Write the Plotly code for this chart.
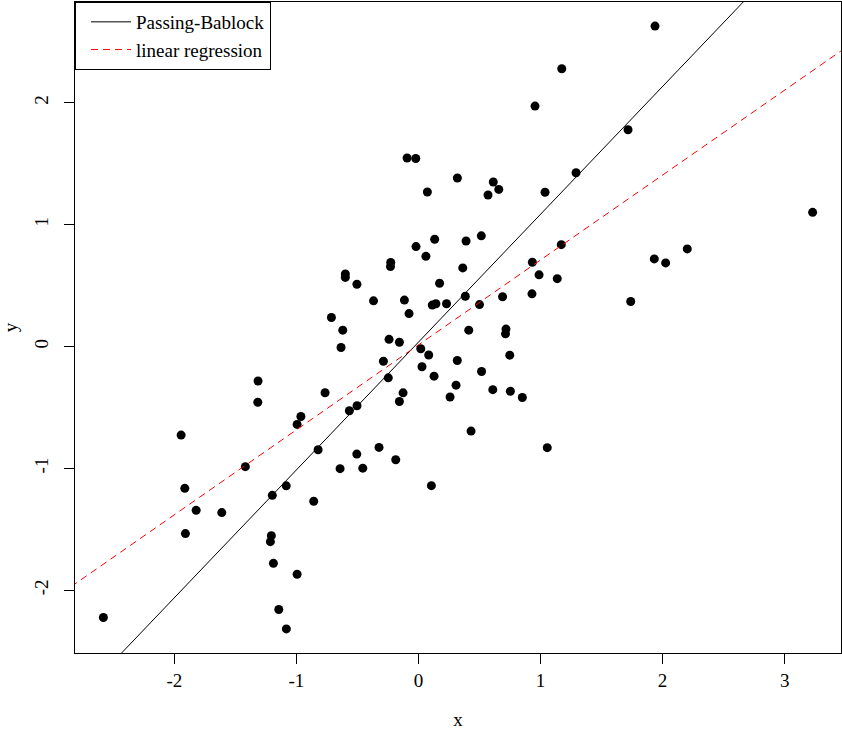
import plotly.graph_objects as go
import numpy as np

# Data
x_vals = [-2.581, -1.944, -1.914, -1.909, -1.821, -1.611, -1.418, -1.314, -1.316, -1.197,
          -1.205, -1.213, -1.188, -1.144, -1.082, -1.083, -0.994, -0.994, -0.963, -0.858,
          -0.822, -0.765, -0.713, -0.634, -0.620, -0.599, -0.599, -0.642, -0.566, -0.503,
          -0.504, -0.505, -0.456, -0.368, -0.323, -0.287, -0.241, -0.247, -0.227, -0.229,
          -0.186, -0.156, -0.156, -0.126, -0.115, -0.093, -0.077, -0.020, -0.022, 0.019,
          0.029, 0.061, 0.073, 0.084, 0.106, 0.113, 0.128, 0.133, 0.143, 0.173,
          0.230, 0.259, 0.308, 0.319, 0.318, 0.363, 0.384, 0.390, 0.412, 0.431,
          0.500, 0.517, 0.515, 0.570, 0.613, 0.609, 0.658, 0.689, 0.717, 0.713,
          0.748, 0.753, 0.851, 0.930, 0.933, 0.955, 0.988, 1.037, 1.055, 1.137,
          1.170, 1.174, 1.291, 1.717, 1.739, 1.932, 1.938, 2.025, 2.202, 3.229]
y_vals = [-2.224, -0.727, -1.164, -1.535, -1.344, -1.363, -0.986, -0.283, -0.457, -1.221,
          -1.552, -1.601, -1.779, -2.158, -2.317, -1.143, -1.869, -0.639, -0.574, -1.270,
          -0.847, -0.379, 0.238, -0.008, 0.134, 0.596, 0.567, -1.002, -0.527, -0.486,
          0.511, -0.883, -0.998, 0.375, -0.828, -0.121, 0.059, -0.257, 0.689, 0.656,
          -0.929, 0.035, -0.451, -0.380, 0.381, 1.547, 0.270, 0.820, 1.543, -0.018,
          -0.166, 0.740, 1.268, -0.070, -1.142, 0.340, -0.243, 0.880, 0.351, 0.519,
          0.351, -0.414, -0.317, 1.383, -0.115, 0.645, 0.412, 0.866, 0.134, -0.694,
          0.344, -0.205, 0.908, 1.243, 1.350, -0.354, 1.289, 0.408, 0.143, 0.104,
          -0.071, -0.367, -0.418, 0.432, 0.691, 1.973, 0.588, 1.266, -0.830, 0.557,
          0.836, 2.279, 1.426, 1.779, 0.369, 0.719, 2.629, 0.686, 0.801, 1.101]

# Fitted lines (intercept, slope)
pb_intercept, pb_slope = 0.036, 1.049       # Passing-Bablock
lr_intercept, lr_slope = 0.013, 0.697       # linear regression

legend_names = ["Passing-Bablock", "linear regression"]
x_ticks = [-2, -1, 0, 1, 2, 3]
y_ticks = [-2, -1, 0, 1, 2]

xa = np.array(x_vals)
ya = np.array(y_vals)
xpad = 0.04 * (xa.max() - xa.min())
ypad = 0.04 * (ya.max() - ya.min())
x_range = [xa.min() - xpad, xa.max() + xpad]
y_range = [ya.min() - ypad, ya.max() + ypad]

line_x = np.array([x_range[0] - 1, x_range[1] + 1])

FONT = "Liberation Serif"

fig = go.Figure()
fig.add_trace(go.Scatter(
    x=x_vals, y=y_vals, mode="markers",
    marker=dict(color="black", size=9, line=dict(width=0)),
    showlegend=False, hoverinfo="x+y"))
fig.add_trace(go.Scatter(
    x=line_x, y=pb_intercept + pb_slope * line_x, mode="lines",
    line=dict(color="black", width=1), name=legend_names[0]))
fig.add_trace(go.Scatter(
    x=line_x, y=lr_intercept + lr_slope * line_x, mode="lines",
    line=dict(color="#FF0000", width=1, dash="7px,5px"), name=legend_names[1]))

axis_common = dict(
    showgrid=False, zeroline=False, showline=True, mirror=True,
    linecolor="black", linewidth=1, ticks="outside", ticklen=10,
    tickcolor="black", tickwidth=1, automargin=False,
    tickfont=dict(family=FONT, size=19, color="black"),
)

fig.update_layout(
    width=842, height=730,
    margin=dict(l=75, r=1, t=2, b=77),
    paper_bgcolor="white", plot_bgcolor="white",
    font=dict(family=FONT, size=19, color="black"),
    xaxis=dict(range=x_range, tickvals=x_ticks, ticktext=[str(t) for t in x_ticks],
               ticklabelstandoff=0,
               title=dict(text="x", standoff=38, font=dict(family=FONT, size=19)),
               **axis_common),
    yaxis=dict(range=y_range, tickvals=y_ticks, ticktext=[str(t) for t in y_ticks],
               tickangle=-90, ticklabelstandoff=8,
               title=dict(text="y", standoff=26, font=dict(family=FONT, size=19)),
               **axis_common),
    legend=dict(x=0, y=1, xanchor="left", yanchor="top",
                bordercolor="black", borderwidth=1, bgcolor="white",
                font=dict(family=FONT, size=19), indentation=10,
                itemwidth=40, tracegroupgap=0),
    showlegend=True,
)

fig.write_html("out.html")
